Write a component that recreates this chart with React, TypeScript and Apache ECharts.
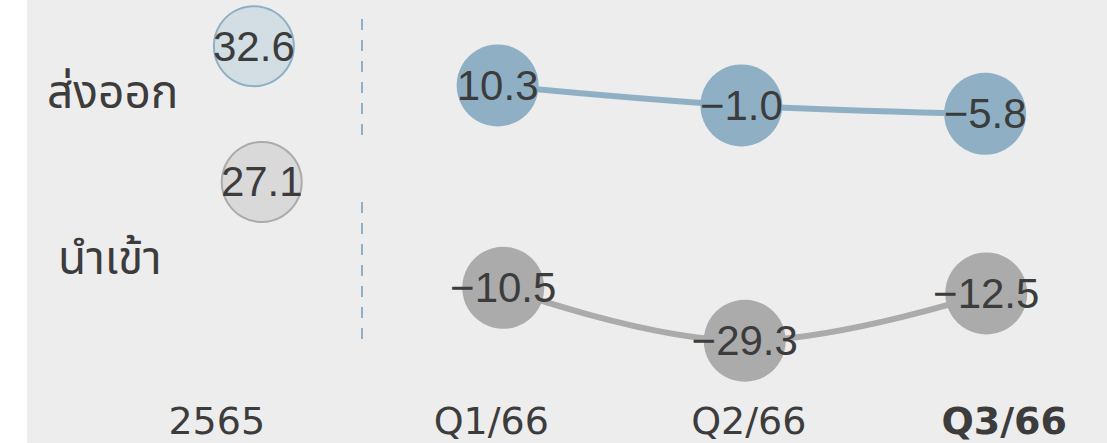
import React, { useEffect, useRef } from "react";
import * as echarts from "echarts";

const categories = ["2565", "Q1/66", "Q2/66", "Q3/66"];
const exportBase = [32.6, null, null, null];
const exportQuarters = [null, 10.3, -1.0, -5.8];
const importBase = [27.1, null, null, null];
const importQuarters = [null, -10.5, -29.3, -12.5];
const rowLabels = ["ส่งออก", "นำเข้า"];

const BLUE = "#8fb0c4";
const GRAY = "#ababab";
const TEXT = "#3c3c3c";
const BG = "#ededed";

const fmt = (p: any) => {
  const v = Array.isArray(p.value) ? p.value[1] : p.value;
  if (v == null) return "";
  const s = Math.abs(v).toFixed(1);
  return v < 0 ? "\u2212" + s : s;
};

const valueLabel = {
  show: true,
  position: "inside",
  color: TEXT,
  fontSize: 42,
  fontFamily: "Liberation Sans, Arial, Helvetica, sans-serif",
  formatter: fmt,
};

export default function App() {
  const ref = useRef<HTMLDivElement>(null);
  useEffect(() => {
    if (!ref.current) return;
    const chart = echarts.init(ref.current, undefined, { renderer: "svg" });
    const labelShift = [
      { padding: [0, 90, 0, 0] },
      { padding: [0, 24, 0, 0] },
      { padding: [0, 0, 0, 8] },
      { padding: [0, 0, 0, 36], fontWeight: "bold" },
    ];
    const option: any = {
      animation: false,
      backgroundColor: BG,
      grid: [
        { left: 132, width: 977, top: 33.1, height: 105.8 },
        { left: 141, width: 969, top: 145.6, height: 225.3 },
      ],
      xAxis: [
        {
          type: "category",
          gridIndex: 0,
          data: categories,
          show: false,
        },
        {
          type: "category",
          gridIndex: 1,
          data: categories.map((c, i) => ({ value: c, textStyle: labelShift[i] })),
          axisLine: { show: false },
          axisTick: { show: false },
          splitLine: { show: false },
          axisLabel: {
            show: true,
            margin: 31,
            color: TEXT,
            fontSize: 38,
            lineHeight: 38,
            fontFamily: "DejaVu Sans, Liberation Sans, sans-serif",
          },
        },
      ],
      yAxis: [
        { type: "value", gridIndex: 0, min: -20, max: 40, show: false },
        { type: "value", gridIndex: 1, min: -40, max: 40, show: false },
      ],
      graphic: [
        {
          type: "rect",
          left: 0,
          top: 0,
          shape: { width: 27, height: 443 },
          style: { fill: "#ffffff" },
          z: -1,
        },
        {
          type: "line",
          shape: { x1: 362, y1: 19, x2: 362, y2: 142 },
          style: { stroke: BLUE, lineWidth: 2, lineDash: [11, 10] },
        },
        {
          type: "line",
          shape: { x1: 362, y1: 202, x2: 362, y2: 348 },
          style: { stroke: BLUE, lineWidth: 2, lineDash: [11, 10] },
        },
        {
          type: "text",
          x: 47,
          y: 94,
          style: {
            text: rowLabels[0],
            fill: TEXT,
            fontSize: 46,
            fontFamily: "Noto Sans Thai, Noto Sans, sans-serif",
            verticalAlign: "middle",
            align: "left",
          },
        },
        {
          type: "text",
          x: 58,
          y: 260,
          style: {
            text: rowLabels[1],
            fill: TEXT,
            fontSize: 46,
            fontFamily: "Noto Sans Thai, Noto Sans, sans-serif",
            verticalAlign: "middle",
            align: "left",
          },
        },
      ],
      series: [
        {
          type: "line",
          xAxisIndex: 0,
          yAxisIndex: 0,
          data: exportQuarters,
          smooth: 0.4,
          symbol: "circle",
          symbolSize: 82,
          lineStyle: { color: BLUE, width: 6 },
          itemStyle: { color: BLUE },
          label: valueLabel,
          z: 3,
        },
        {
          type: "scatter",
          xAxisIndex: 0,
          yAxisIndex: 0,
          data: exportBase,
          symbol: "circle",
          symbolSize: 80,
          itemStyle: { color: "#d3dde4", borderColor: BLUE, borderWidth: 2, opacity: 1 },
          label: valueLabel,
          z: 3,
        },
        {
          type: "line",
          xAxisIndex: 1,
          yAxisIndex: 1,
          data: importQuarters,
          smooth: 0.4,
          symbol: "circle",
          symbolSize: 82,
          lineStyle: { color: GRAY, width: 6 },
          itemStyle: { color: GRAY },
          label: valueLabel,
          z: 3,
        },
        {
          type: "scatter",
          xAxisIndex: 1,
          yAxisIndex: 1,
          data: importBase,
          symbol: "circle",
          symbolSize: 80,
          itemStyle: { color: "#d9d9d9", borderColor: GRAY, borderWidth: 2, opacity: 1 },
          label: valueLabel,
          z: 3,
        },
      ],
    };
    chart.setOption(option);
    return () => chart.dispose();
  }, []);
  return (
    <div
      ref={ref}
      style={{ position: "absolute", left: 0, top: 0, width: 1107, height: 443 }}
    />
  );
}
